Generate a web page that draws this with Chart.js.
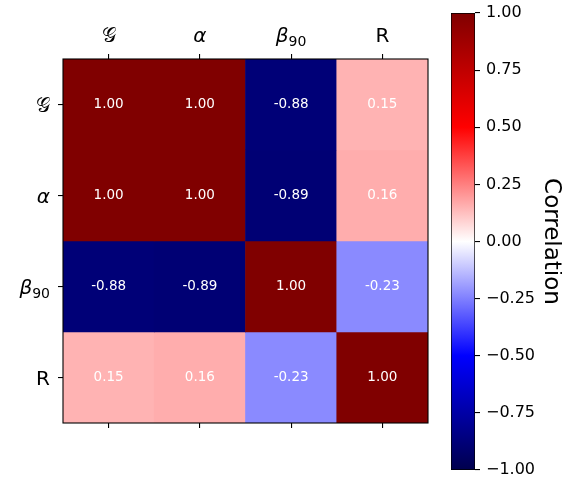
<!DOCTYPE html>
<html>
<head>
<meta charset="utf-8">
<script src="https://cdn.jsdelivr.net/npm/chart.js@4"></script>
<style>
  html, body { margin: 0; padding: 0; background: #fff; }
  #wrap { position: relative; width: 562px; height: 479px; }
  canvas { position: absolute; left: 0; top: 0; }
</style>
</head>
<body>
<div id="wrap">
  <canvas id="heat" width="562" height="479"></canvas>
  <canvas id="cbar" width="562" height="479"></canvas>
</div>
<script>
// Variables (same order on both axes)
const varLabels = ['\u{1D4A2}', '\u03B1', '\u03B2\u2089\u2080', 'R'];

// Correlation matrix, one array per row
const rowG     = [1.00, 1.00, -0.88, 0.15];
const rowAlpha = [1.00, 1.00, -0.89, 0.16];
const rowBeta  = [-0.88, -0.89, 1.00, -0.23];
const rowR     = [0.15, 0.16, -0.23, 1.00];
const matrix = [rowG, rowAlpha, rowBeta, rowR];

// Colorbar ticks
const cbarTicks = [-1, -0.75, -0.5, -0.25, 0, 0.25, 0.5, 0.75, 1];

const FONT = "'DejaVu Sans', sans-serif";

// matplotlib 'seismic' colormap
const seismic = [
  [0.00, [0, 0, 76.5]],
  [0.25, [0, 0, 255]],
  [0.50, [255, 255, 255]],
  [0.75, [255, 0, 0]],
  [1.00, [127.5, 0, 0]]
];
function cmap(v) {
  let t = (v + 1) / 2;
  t = Math.max(0, Math.min(1, t));
  for (let k = 1; k < seismic.length; k++) {
    if (t <= seismic[k][0]) {
      const [t0, c0] = seismic[k - 1];
      const [t1, c1] = seismic[k];
      const f = (t - t0) / (t1 - t0);
      const c = c0.map((a, i) => Math.round(a + (c1[i] - a) * f));
      return `rgb(${c[0]},${c[1]},${c[2]})`;
    }
  }
  return 'rgb(127,0,0)';
}

// each row is a dataset of floating bars spanning [i, i+1] on the y scale
const datasets = matrix.map((row, i) => ({
  data: row.map(() => [i, i + 1]),
  backgroundColor: row.map(v => cmap(v)),
  borderWidth: 0,
  barPercentage: 1,
  categoryPercentage: 1,
  grouped: false
}));

// math-style label pieces: [text, italic, size, dy]
function labelParts(lab) {
  if (lab === '\u03B2\u2089\u2080') return [['\u03B2', true, 20, 0], ['90', false, 14, 4]];
  if (lab === '\u03B1') return [['\u03B1', true, 20, 0]];
  return [[lab, false, 20, 0]];
}
function drawLabel(ctx, lab, x, baseY, align) {
  const parts = labelParts(lab);
  const widths = parts.map(([t, it, sz]) => {
    ctx.font = `${it ? 'italic ' : ''}${sz}px ${FONT}`;
    return ctx.measureText(t).width;
  });
  const total = widths.reduce((a, b) => a + b, 0);
  let cx = align === 'center' ? x - total / 2 : x - total;
  parts.forEach(([t, it, sz, dy], k) => {
    ctx.font = `${it ? 'italic ' : ''}${sz}px ${FONT}`;
    ctx.fillText(t, cx, baseY + dy);
    cx += widths[k];
  });
}

// cell texts, frame and tick labels
const cellText = {
  id: 'cellText',
  afterDatasetsDraw(chart) {
    const { ctx, scales: { x, y } } = chart;
    ctx.save();
    ctx.font = `13.5px ${FONT}`;
    ctx.fillStyle = '#fff';
    ctx.textAlign = 'center';
    ctx.textBaseline = 'middle';
    matrix.forEach((row, i) => {
      row.forEach((v, j) => {
        ctx.fillText(v.toFixed(2), x.getPixelForValue(j), y.getPixelForValue(i + 0.5));
      });
    });
    const a = chart.chartArea;
    ctx.strokeStyle = '#000';
    ctx.lineWidth = 1.1;
    ctx.strokeRect(a.left, a.top, a.right - a.left, a.bottom - a.top);

    ctx.fillStyle = '#000';
    ctx.textAlign = 'left';
    ctx.textBaseline = 'alphabetic';
    varLabels.forEach((lab, j) => {
      drawLabel(ctx, lab, x.getPixelForValue(j), a.top - 17, 'center');
    });
    varLabels.forEach((lab, i) => {
      drawLabel(ctx, lab, a.left - 13, y.getPixelForValue(i + 0.5) + 7, 'right');
    });
    ctx.restore();
  }
};

new Chart(document.getElementById('heat'), {
  type: 'bar',
  data: { labels: varLabels, datasets: datasets },
  options: {
    responsive: false,
    animation: false,
    layout: { padding: { left: 0, top: 0, right: 134, bottom: 0 } },
    plugins: { legend: { display: false }, tooltip: { enabled: false } },
    scales: {
      x: {
        type: 'category',
        position: 'top',
        offset: true,
        border: { display: false },
        grid: { offset: false, drawOnChartArea: false, tickLength: 5, tickColor: '#000', lineWidth: 1.1 },
        ticks: { color: 'rgba(0,0,0,0)', maxRotation: 0 },
        afterFit: s => { s.height = 59; }
      },
      x2: {
        type: 'category',
        position: 'bottom',
        labels: varLabels,
        offset: true,
        border: { display: false },
        grid: { offset: false, drawOnChartArea: false, tickLength: 5, tickColor: '#000', lineWidth: 1.1 },
        ticks: { color: 'rgba(0,0,0,0)', maxRotation: 0 },
        afterFit: s => { s.height = 56; }
      },
      y: {
        type: 'linear',
        min: 0,
        max: 4,
        reverse: true,
        border: { display: false },
        grid: { drawOnChartArea: false, tickLength: 5, tickColor: '#000', lineWidth: 1.1 },
        afterBuildTicks: s => { s.ticks = varLabels.map((_, i) => ({ value: i + 0.5 })); },
        ticks: {
          color: 'rgba(0,0,0,0)',
          callback: (v) => varLabels[Math.floor(v)]
        },
        afterFit: s => { s.width = 63; }
      }
    }
  },
  plugins: [cellText]
});

// colorbar
const gradientFill = (ctx) => {
  const a = ctx.chart.chartArea;
  if (!a) return '#fff';
  const g = ctx.chart.ctx.createLinearGradient(0, a.bottom, 0, a.top);
  seismic.forEach(([t, c]) => g.addColorStop(t, `rgb(${c[0]},${c[1]},${c[2]})`));
  return g;
};

new Chart(document.getElementById('cbar'), {
  type: 'bar',
  data: {
    labels: ['Correlation'],
    datasets: [{
      data: [[-1, 1]],
      backgroundColor: gradientFill,
      borderColor: '#000',
      borderWidth: 1,
      borderSkipped: false,
      barPercentage: 1,
      categoryPercentage: 1
    }]
  },
  options: {
    responsive: false,
    animation: false,
    layout: { padding: { left: 451, top: 13, right: 0, bottom: 9 } },
    plugins: { legend: { display: false }, tooltip: { enabled: false } },
    scales: {
      x: { display: false },
      y: {
        position: 'right',
        min: -1,
        max: 1,
        border: { display: false },
        grid: { drawOnChartArea: false, tickLength: 5, tickColor: '#000', lineWidth: 1.1 },
        afterBuildTicks: s => { s.ticks = cbarTicks.map(v => ({ value: v })); },
        ticks: {
          color: '#000',
          font: { family: FONT, size: 16 },
          padding: 6,
          callback: v => (v < 0 ? '\u2212' : '') + Math.abs(v).toFixed(2)
        },
        title: {
          display: true,
          text: 'Correlation',
          color: '#000',
          font: { family: FONT, size: 23, lineHeight: 1 },
          padding: { top: 0, bottom: 0 }
        },
        afterFit: s => { s.width = 87; s.paddingTop = 0; s.paddingBottom = 0; }
      }
    }
  }
});
</script>
</body>
</html>
